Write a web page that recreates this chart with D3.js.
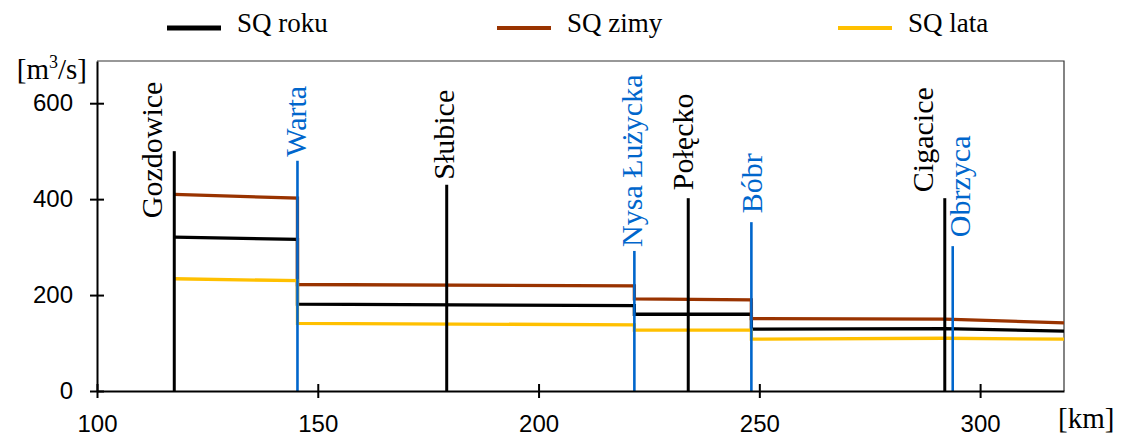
<!DOCTYPE html>
<html lang="pl">
<head>
    <meta charset="UTF-8">
    <title>SQ Odra</title>
    <script src="https://d3js.org/d3.v7.min.js"></script>
    <style>
        body { margin: 0; background: #fff; }
        svg { display: block; }
        .serif { font-family: "Liberation Serif", "Times New Roman", serif; }
        .tick text { font-family: "Liberation Sans", Arial, sans-serif; font-size: 24px; fill: #000; }
    </style>
</head>
<body>
<div id="container"></div>
<script>
    // data
    const km = [117.5, 145.4, 145.4, 221.7, 221.7, 248.2, 248.2, 292, 319];
    const sqRoku = [321, 316, 181, 178, 160, 160, 129, 130, 125];
    const sqZimy = [410, 402, 222, 219, 192, 190, 151, 150, 142];
    const sqLata = [234, 230, 141, 138, 127, 127, 108, 110, 108];

    const markerNames = ['Gozdowice', 'Warta', 'Słubice', 'Nysa Łużycka', 'Połęcko', 'Bóbr', 'Cigacice', 'Obrzyca'];
    const markerKm = [117.5, 145.4, 179.2, 221.7, 233.9, 248.2, 292, 293.8];
    const markerTop = [500, 480, 430, 292, 402, 352, 402, 302];
    const markerType = ['station', 'river', 'station', 'river', 'station', 'river', 'station', 'river'];

    const xTicks = [100, 150, 200, 250, 300];
    const yTicks = [0, 200, 400, 600];

    const seriesNames = ['SQ roku', 'SQ zimy', 'SQ lata'];
    const seriesColors = ['#000000', '#993300', '#FFC000'];
    const seriesValues = [sqRoku, sqZimy, sqLata];

    // label nudges (layout only): baseline offset in px, start offset from line top
    const labelDx = [-12, 9, 7, 8, 5, 11, -12, 17];
    const labelDy = [67, -4, -5, -4, -8, -9, -6, -9];

    const width = 1123, height = 436;
    const mLeft = 97, mRight = 1064, mTop = 61, mBottom = 391;

    const svg = d3.select('#container').append('svg')
        .attr('width', width)
        .attr('height', height);

    const x = d3.scaleLinear().domain([100, 319]).range([mLeft, mRight]);
    const y = d3.scaleLinear().domain([0, 688]).range([mBottom, mTop]);

    // frame top + right
    svg.append('path')
        .attr('d', `M${mLeft},${mTop}H${mRight}V${mBottom}`)
        .attr('fill', 'none')
        .attr('stroke', '#333')
        .attr('stroke-width', 1.2);

    // series
    const line = d3.line()
        .x((d, i) => x(km[i]))
        .y(d => y(d));

    seriesValues.forEach((vals, s) => {
        svg.append('path')
            .datum(vals)
            .attr('d', line)
            .attr('fill', 'none')
            .attr('stroke', seriesColors[s])
            .attr('stroke-width', 3.3);
    });

    // vertical markers
    markerNames.forEach((name, i) => {
        const col = markerType[i] === 'river' ? '#0066CC' : '#000';
        const mx = x(markerKm[i]);
        const my = y(markerTop[i]);
        svg.append('line')
            .attr('x1', mx).attr('x2', mx)
            .attr('y1', y(0)).attr('y2', my)
            .attr('stroke', col)
            .attr('stroke-width', markerType[i] === 'river' ? 2.6 : 3);

        const tx = mx + labelDx[i];
        const ty = my + labelDy[i];
        svg.append('text')
            .attr('class', 'serif')
            .attr('transform', `translate(${tx},${ty}) rotate(-90)`)
            .attr('font-size', 30)
            .attr('fill', col)
            .text(name);
    });

    // axes
    const yAxis = svg.append('g')
        .attr('transform', `translate(${mLeft},0)`)
        .call(d3.axisLeft(y).tickValues(yTicks).tickSize(0).tickPadding(24));
    yAxis.select('.domain').attr('stroke', '#000').attr('stroke-width', 2);
    yAxis.selectAll('.tick line').attr('x1', -7).attr('x2', 7).attr('stroke', '#000').attr('stroke-width', 2);

    const xAxis = svg.append('g')
        .attr('transform', `translate(0,${mBottom})`)
        .call(d3.axisBottom(x).tickValues(xTicks).tickSize(0).tickPadding(24));
    xAxis.select('.domain').attr('stroke', '#000').attr('stroke-width', 2);
    xAxis.selectAll('.tick line').attr('y1', -7).attr('y2', 7).attr('stroke', '#000').attr('stroke-width', 2);

    // unit labels
    svg.append('text')
        .attr('class', 'serif')
        .attr('x', 87).attr('y', 79)
        .attr('text-anchor', 'end')
        .attr('font-size', 29)
        .html('[m<tspan dy="-11" font-size="18">3</tspan><tspan dy="11">/s]</tspan>');

    svg.append('text')
        .attr('class', 'serif')
        .attr('x', 1058).attr('y', 428)
        .attr('font-size', 29)
        .text('[km]');

    // legend
    const legendX = [167, 497, 838];
    seriesNames.forEach((name, i) => {
        const g = svg.append('g').attr('transform', `translate(${legendX[i]},28)`);
        g.append('line')
            .attr('x1', 0).attr('x2', 54)
            .attr('stroke', seriesColors[i])
            .attr('stroke-width', i === 0 ? 5 : 4);
        g.append('text')
            .attr('class', 'serif')
            .attr('x', 70).attr('y', 4)
            .attr('font-size', 27)
            .text(name);
    });
</script>
</body>
</html>
